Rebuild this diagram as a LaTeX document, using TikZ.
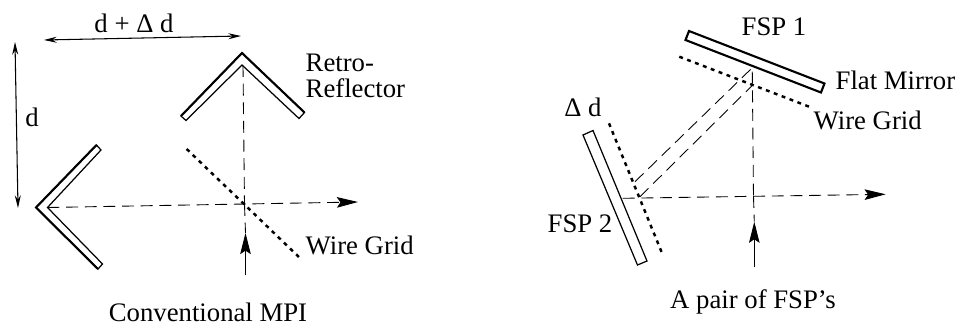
\documentclass[tikz,border=0pt]{standalone}
\usepackage{fontspec}
\setmainfont{Liberation Serif}
\usetikzlibrary{arrows.meta}

\tikzset{
  label/.style={inner sep=0pt,font=\fontsize{7.6pt}{9pt}\selectfont},
  plate/.style={line width=0.35pt},
  face/.style={line width=0.6pt},
  grid/.style={line width=0.7pt,dash pattern=on 1.1pt off 1.3pt},
  beam/.style={line width=0.25pt,dash pattern=on 3.4pt off 1.9pt},
  solidbeam/.style={line width=0.25pt},
  bigtip/.style={-{Stealth[length=6pt,width=3pt,inset=1pt]}},
  dimension/.style={{Stealth[length=3.6pt,width=1.7pt]}-{Stealth[length=3.6pt,width=1.7pt]},line width=0.3pt}
}

\begin{document}
\begin{tikzpicture}[x=0.01cm,y=-0.01cm]
\useasboundingbox (0,0) rectangle (956,324);

% Conventional MPI: upper retro-reflector
\draw[plate] (181,116) -- (186,120.5) -- (242,65) -- (299,118.5) -- (304.5,112.5) -- (242,53) -- cycle;
\draw[face] (181,116) -- (242,53) -- (304.5,112.5);

% Left retro-reflector
\draw[plate] (96.5,145) -- (101,150) -- (47.5,207.5) -- (102.5,264) -- (98,269) -- (36,207.5) -- cycle;
\draw[face] (96.5,145) -- (36,207.5) -- (98,269);

% Beams and grid
\coordinate (gridA) at (186.7,149);
\coordinate (gridB) at (300,258);
\coordinate (apexA) at (243,65);
\coordinate (crossA) at (244.5,204);
\coordinate (apexB) at (47.5,207.5);
\coordinate (outA) at (358,202);
\coordinate (inA) at (245.5,275);
\coordinate (tipA) at (245.5,233);
\draw[grid] (gridA) -- (gridB);
\draw[beam] (apexA) -- (crossA);
\draw[beam] (crossA) -- (tipA);
\draw[bigtip,solidbeam] (inA) -- (tipA);
\draw[bigtip,beam] (apexB) -- (outA);

% Dimensions
\coordinate (dimA) at (44,40);
\coordinate (dimB) at (241,36);
\coordinate (dimC) at (15,42);
\coordinate (dimD) at (18,208);
\draw[dimension] (dimA) -- (dimB);
\draw[dimension] (dimC) -- (dimD);
\node[label] (dsum) at (134,23) {d + Δ d};
\node[label] (dval) at (32,117) {d};
\node[label,anchor=base west] (retro) at (305,71) {Retro-};
\node[label,anchor=base west] (reflector) at (305,97) {Reflector};
\node[label,anchor=base west] (wireA) at (305,254) {Wire Grid};
\node[label] (mpi) at (208,312) {Conventional MPI};

% Pair of FSP's: plates
\draw[face] (689,31) -- (824.5,83.5) -- (821,92.5) -- (685.5,40) -- cycle;
\draw[plate] (583,135) -- (593,130.5) -- (647,261) -- (637.5,265) -- cycle;

% Grids
\coordinate (gridC) at (679.3,56.7);
\coordinate (gridD) at (810.7,107.3);
\coordinate (gridE) at (609,123.3);
\coordinate (gridF) at (661.7,252.3);
\draw[grid] (gridC) -- (gridD);
\draw[grid] (gridE) -- (gridF);

% Beams
\coordinate (topB) at (752.3,71.7);
\coordinate (crossB) at (753.5,196);
\coordinate (inB) at (754.3,267);
\coordinate (tipB) at (754.3,221.7);
\coordinate (startB) at (622.7,198.3);
\coordinate (outB) at (885.7,194.3);
\coordinate (splitA) at (635,181.7);
\coordinate (splitB) at (751.7,68.3);
\coordinate (splitC) at (640,196.7);
\coordinate (splitD) at (751.7,86);
\draw[beam] (topB) -- (crossB);
\draw[beam] (crossB) -- (tipB);
\draw[bigtip,solidbeam] (inB) -- (tipB);
\draw[bigtip,beam] (startB) -- (outB);
\draw[beam] (splitA) -- (splitB);
\draw[beam] (splitC) -- (splitD);

% Labels
\node[label] (fspA) at (774,27) {FSP 1};
\node[label,anchor=west] (flat) at (835,80) {Flat Mirror};
\node[label,anchor=west] (wireB) at (813,120) {Wire Grid};
\node[label] (delta) at (583,107) {Δ d};
\node[label] (fspB) at (580,224) {FSP 2};
\node[label] (pair) at (753,302) {A pair of FSP's};

\end{tikzpicture}
\end{document}
